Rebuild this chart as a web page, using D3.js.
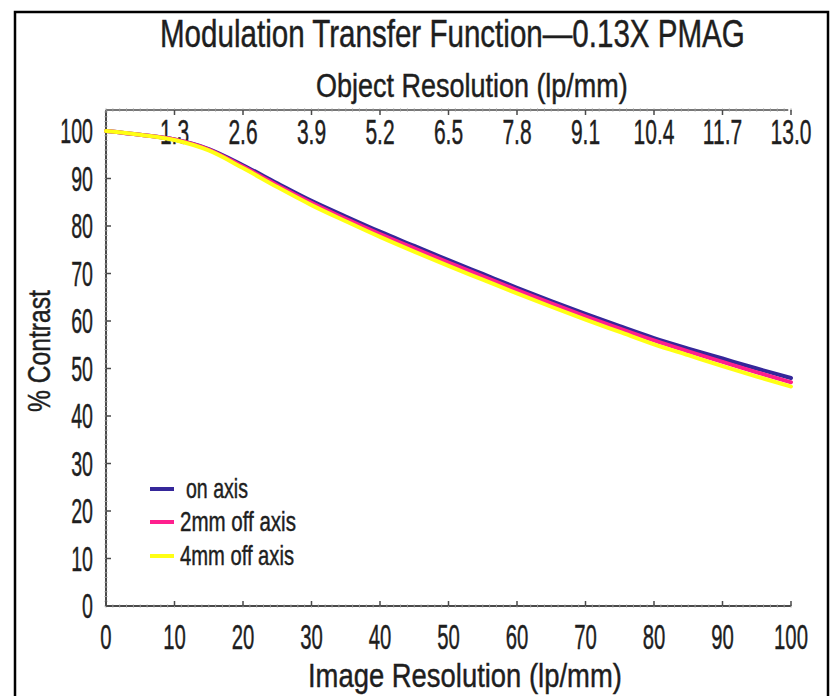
<!DOCTYPE html>
<html>
<head>
<meta charset="utf-8">
<script src="https://cdn.jsdelivr.net/npm/d3@7"></script>
<style>
  body { margin: 0; background: #fff; }
  text { font-family: "Liberation Sans", Arial, sans-serif; fill: #1e1e1e; stroke: #1e1e1e; stroke-width: 0.45; }
</style>
</head>
<body>
<div id="chart"></div>
<script>
// image resolution (lp/mm) sampled along the curves
const imageRes = [0, 5, 10, 15, 20, 25, 30, 35, 40, 45, 50, 55, 60, 65, 70, 75, 80, 85, 90, 95, 100];
const onAxis   = [100, 99.2, 98.2, 96.2, 92.8, 89.0, 85.3, 82.0, 78.8, 75.8, 72.8, 69.9, 67.0, 64.2, 61.5, 58.9, 56.4, 54.2, 52.1, 50.0, 48.0];
const off2mm   = [100, 99.2, 98.2, 96.1, 92.5, 88.6, 84.9, 81.5, 78.3, 75.3, 72.3, 69.4, 66.5, 63.7, 61.0, 58.4, 55.9, 53.6, 51.4, 49.2, 47.1];
const off4mm   = [100, 99.2, 98.1, 95.9, 92.2, 88.2, 84.4, 81.0, 77.7, 74.6, 71.6, 68.7, 65.8, 63.0, 60.3, 57.7, 55.1, 52.8, 50.5, 48.3, 46.2];

const xTicks = [0, 10, 20, 30, 40, 50, 60, 70, 80, 90, 100];
const yTicks = [0, 10, 20, 30, 40, 50, 60, 70, 80, 90, 100];
const objTickLabels = ["1.3", "2.6", "3.9", "5.2", "6.5", "7.8", "9.1", "10.4", "11.7", "13.0"];

const seriesNames = ["on axis", "2mm off axis", "4mm off axis"];
const seriesColors = ["#35279a", "#ff1f8e", "#ffff14"];

const width = 830, height = 696;
const plot = { left: 106, right: 791, top: 110, bottom: 606 };

const svg = d3.select("#chart").append("svg")
    .attr("width", width)
    .attr("height", height);

// outer frame
svg.append("rect")
    .attr("x", 15).attr("y", 12)
    .attr("width", 813).attr("height", 700)
    .attr("fill", "none")
    .attr("stroke", "#000")
    .attr("stroke-width", 2.5);

const x = d3.scaleLinear().domain([0, 100]).range([plot.left, plot.right]);
const y = d3.scaleLinear().domain([0, 100]).range([plot.bottom, 131]);

// helper for the narrow condensed look
function label(g, px, py, str, size, anchor, sx) {
    return g.append("text")
        .attr("transform", `translate(${px},${py}) scale(${sx},1)`)
        .attr("text-anchor", anchor)
        .attr("font-size", size)
        .text(str);
}

// squeeze a text horizontally so it covers the given width
function fitText(g, px, py, str, size, targetW, rotate) {
    const t = g.append("text")
        .attr("font-size", size)
        .text(str);
    const w = t.node().getComputedTextLength();
    const sx = targetW / w;
    t.attr("transform", `translate(${px},${py})${rotate ? " rotate(-90)" : ""} scale(${sx},1)`);
    return t;
}

const axesG = svg.append("g").attr("class", "axesG");
const axisColor = "#4a4a4a";

// axis lines: left, bottom, top
axesG.append("line")
    .attr("x1", plot.left).attr("x2", plot.left)
    .attr("y1", plot.top).attr("y2", plot.bottom)
    .attr("stroke", axisColor).attr("stroke-width", 2);
axesG.append("line")
    .attr("x1", plot.left).attr("x2", plot.right)
    .attr("y1", plot.bottom).attr("y2", plot.bottom)
    .attr("stroke", axisColor).attr("stroke-width", 2);
axesG.append("line")
    .attr("x1", plot.left).attr("x2", x(99.6))
    .attr("y1", plot.top).attr("y2", plot.top)
    .attr("stroke", "#777").attr("stroke-width", 2);

// minor ticks give the dotted look along the axes
const minorX = d3.range(0, 101, 1);
axesG.selectAll(".minorTop").data(minorX).join("line")
    .attr("x1", d => x(d)).attr("x2", d => x(d))
    .attr("y1", plot.top - 1.5).attr("y2", plot.top + 1.5)
    .attr("stroke", "#999").attr("stroke-width", 1);
axesG.selectAll(".minorBottom").data(minorX).join("line")
    .attr("x1", d => x(d)).attr("x2", d => x(d))
    .attr("y1", plot.bottom - 1.5).attr("y2", plot.bottom + 1.5)
    .attr("stroke", "#999").attr("stroke-width", 1);
const minorY = d3.range(0, 105, 1);
axesG.selectAll(".minorLeft").data(minorY).join("line")
    .attr("y1", d => y(d)).attr("y2", d => y(d))
    .attr("x1", plot.left - 1.5).attr("x2", plot.left + 1.5)
    .attr("stroke", "#999").attr("stroke-width", 1);

// major ticks
axesG.selectAll(".tickB").data(xTicks).join("line")
    .attr("x1", d => x(d)).attr("x2", d => x(d))
    .attr("y1", plot.bottom).attr("y2", plot.bottom - 5)
    .attr("stroke", axisColor).attr("stroke-width", 1.5);
axesG.selectAll(".tickT").data(xTicks.slice(1)).join("line")
    .attr("x1", d => x(d)).attr("x2", d => x(d))
    .attr("y1", plot.top).attr("y2", plot.top + 5)
    .attr("stroke", axisColor).attr("stroke-width", 1.5);
axesG.selectAll(".tickL").data(yTicks).join("line")
    .attr("y1", d => y(d)).attr("y2", d => y(d))
    .attr("x1", plot.left).attr("x2", plot.left + 5)
    .attr("stroke", axisColor).attr("stroke-width", 1.5);

// tick labels
xTicks.forEach(t => label(axesG, x(t), 649, t, 35, "middle", 0.58));
yTicks.forEach(t => label(axesG, 93, y(t) + 12, t, 35, "end", 0.56));
objTickLabels.forEach((t, i) => label(axesG, x(xTicks[i + 1]), 144, t, 35, "middle", 0.6));

// titles
fitText(svg, 160, 47, "Modulation Transfer Function\u20140.13X PMAG", 39, 585, false);
fitText(svg, 316, 97, "Object Resolution (lp/mm)", 33, 312, false);
fitText(svg, 308, 687, "Image Resolution (lp/mm)", 34, 314, false);
fitText(svg, 50, 412, "% Contrast", 32, 122, true);

// curves
const allSeries = [onAxis, off2mm, off4mm];
const line = d3.line()
    .x((d, i) => x(imageRes[i]))
    .y(d => y(d))
    .curve(d3.curveMonotoneX);

svg.append("g").attr("class", "curvesG")
    .selectAll("path").data(allSeries).join("path")
    .attr("d", d => line(d))
    .attr("fill", "none")
    .attr("stroke", (d, i) => seriesColors[i])
    .attr("stroke-width", 4)
    .attr("stroke-linecap", "round");

// legend
const legendG = svg.append("g").attr("class", "legendG");
const legendY = [489, 522, 556];
const legendTextX = [186, 180, 180];
const legendWidths = [62, 116, 114];
seriesNames.forEach((name, i) => {
    legendG.append("line")
        .attr("x1", 150).attr("x2", 174)
        .attr("y1", legendY[i]).attr("y2", legendY[i])
        .attr("stroke", seriesColors[i]).attr("stroke-width", 4);
    fitText(legendG, legendTextX[i], legendY[i] + 9, name, 27, legendWidths[i], false);
});
</script>
</body>
</html>
